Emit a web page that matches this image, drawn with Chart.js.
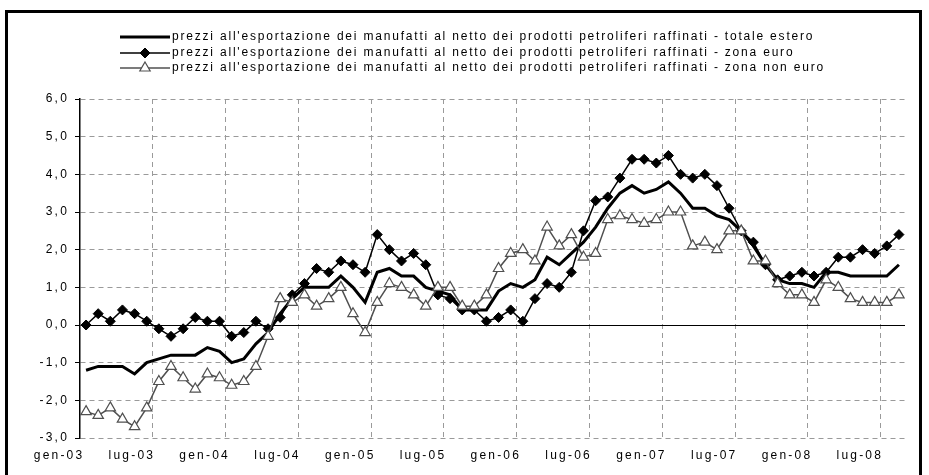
<!DOCTYPE html>
<html>
<head>
<meta charset="utf-8">
<script src="https://cdn.jsdelivr.net/npm/chart.js@4"></script>
<style>
  html, body { margin: 0; padding: 0; background: #fff; }
  #wrap { width: 929px; height: 475px; }
</style>
</head>
<body>
<div id="wrap"><canvas id="c" width="929" height="475"></canvas></div>
<script>
const categories = [
  'gen-03','feb-03','mar-03','apr-03','mag-03','giu-03','lug-03','ago-03','set-03','ott-03','nov-03','dic-03',
  'gen-04','feb-04','mar-04','apr-04','mag-04','giu-04','lug-04','ago-04','set-04','ott-04','nov-04','dic-04',
  'gen-05','feb-05','mar-05','apr-05','mag-05','giu-05','lug-05','ago-05','set-05','ott-05','nov-05','dic-05',
  'gen-06','feb-06','mar-06','apr-06','mag-06','giu-06','lug-06','ago-06','set-06','ott-06','nov-06','dic-06',
  'gen-07','feb-07','mar-07','apr-07','mag-07','giu-07','lug-07','ago-07','set-07','ott-07','nov-07','dic-07',
  'gen-08','feb-08','mar-08','apr-08','mag-08','giu-08','lug-08','ago-08'
];

const totaleEstero = [
  -1.2,-1.1,-1.1,-1.1,-1.3,-1.0,-0.9,-0.8,-0.8,-0.8,-0.6,-0.7,
  -1.0,-0.9,-0.5,-0.2, 0.3, 0.7, 1.0, 1.0, 1.0, 1.3, 1.0, 0.6,
   1.4, 1.5, 1.3, 1.3, 1.0, 0.9, 0.8, 0.4, 0.4, 0.4, 0.9, 1.1,
   1.0, 1.2, 1.8, 1.6, 1.9, 2.2, 2.6, 3.1, 3.5, 3.7, 3.5, 3.6,
   3.8, 3.5, 3.1, 3.1, 2.9, 2.8, 2.5, 2.1, 1.6, 1.2, 1.1, 1.1,
   1.0, 1.4, 1.4, 1.3, 1.3, 1.3, 1.3, 1.6
];

const zonaEuro = [
   0.0, 0.3, 0.1, 0.4, 0.3, 0.1,-0.1,-0.3,-0.1, 0.2, 0.1, 0.1,
  -0.3,-0.2, 0.1,-0.1, 0.2, 0.8, 1.1, 1.5, 1.4, 1.7, 1.6, 1.4,
   2.4, 2.0, 1.7, 1.9, 1.6, 0.8, 0.7, 0.4, 0.4, 0.1, 0.2, 0.4,
   0.1, 0.7, 1.1, 1.0, 1.4, 2.5, 3.3, 3.4, 3.9, 4.4, 4.4, 4.3,
   4.5, 4.0, 3.9, 4.0, 3.7, 3.1, 2.5, 2.2, 1.6, 1.2, 1.3, 1.4,
   1.3, 1.4, 1.8, 1.8, 2.0, 1.9, 2.1, 2.4
];

const zonaNonEuro = [
  -2.3,-2.4,-2.2,-2.5,-2.7,-2.2,-1.5,-1.1,-1.4,-1.7,-1.3,-1.4,
  -1.6,-1.5,-1.1,-0.3, 0.7, 0.6, 0.8, 0.5, 0.7, 1.0, 0.3,-0.2,
   0.6, 1.1, 1.0, 0.8, 0.5, 1.0, 1.0, 0.5, 0.5, 0.8, 1.5, 1.9,
   2.0, 1.7, 2.6, 2.1, 2.4, 1.8, 1.9, 2.8, 2.9, 2.8, 2.7, 2.8,
   3.0, 3.0, 2.1, 2.2, 2.0, 2.5, 2.5, 1.7, 1.7, 1.1, 0.8, 0.8,
   0.6, 1.2, 1.0, 0.7, 0.6, 0.6, 0.6, 0.8
];

const seriesNames = [
  "prezzi all'esportazione dei manufatti al netto dei prodotti petroliferi raffinati - totale estero",
  "prezzi all'esportazione dei manufatti al netto dei prodotti petroliferi raffinati - zona euro",
  "prezzi all'esportazione dei manufatti al netto dei prodotti petroliferi raffinati - zona non euro"
];

const yMin = -3, yMax = 6, yStep = 1;
const labelEvery = 6;

const FONT = '"Liberation Sans", Arial, sans-serif';
const GRID = '#9a9a9a';
const NONEURO = '#505050';

const framePlugin = {
  id: 'frame',
  beforeDraw(chart) {
    const ctx = chart.ctx;
    ctx.save();
    ctx.fillStyle = '#fff';
    ctx.fillRect(0, 0, chart.width, chart.height);
    ctx.strokeStyle = '#000';
    ctx.lineWidth = 3;
    ctx.strokeRect(6.5, 11.5, 914, 490);
    ctx.restore();
    ctx.letterSpacing = '2.2px';
  },
  afterDraw(chart) {
    const ctx = chart.ctx;
    ctx.save();
    ctx.letterSpacing = '1.8px';
    const rowsY = [37, 53, 68];
    const x0 = 120, x1 = 170, tx = 172;
    chart.data.datasets.forEach((ds, i) => {
      const y = rowsY[i];
      ctx.setLineDash([]);
      ctx.strokeStyle = ds.borderColor;
      ctx.lineWidth = ds.borderWidth;
      ctx.beginPath();
      ctx.moveTo(x0, y);
      ctx.lineTo(x1, y);
      ctx.stroke();
      if (ds.pointRadius > 0) {
        ctx.fillStyle = ds.pointBackgroundColor;
        ctx.strokeStyle = ds.pointBorderColor;
        ctx.lineWidth = ds.pointBorderWidth;
        Chart.helpers.drawPoint(ctx, {pointStyle: ds.pointStyle, radius: ds.pointRadius, borderWidth: ds.pointBorderWidth, rotation: 0}, (x0 + x1) / 2, y);
      }
      ctx.fillStyle = '#000';
      ctx.font = '12px ' + FONT;
      ctx.textBaseline = 'middle';
      ctx.textAlign = 'left';
      ctx.fillText(ds.label, tx, y);
    });
    ctx.restore();
    ctx.letterSpacing = '0px';
  }
};

new Chart(document.getElementById('c'), {
  type: 'line',
  data: {
    labels: categories,
    datasets: [
      {
        label: seriesNames[0],
        data: totaleEstero,
        borderColor: '#000',
        borderWidth: 3,
        pointRadius: 0,
        pointStyle: 'circle',
        tension: 0,
        order: 3
      },
      {
        label: seriesNames[1],
        data: zonaEuro,
        borderColor: '#000',
        borderWidth: 1.5,
        pointStyle: 'rectRot',
        pointRadius: 5,
        pointBackgroundColor: '#000',
        pointBorderColor: '#000',
        pointBorderWidth: 1,
        tension: 0,
        order: 2
      },
      {
        label: seriesNames[2],
        data: zonaNonEuro,
        borderColor: NONEURO,
        borderWidth: 1.5,
        pointStyle: 'triangle',
        pointRadius: 6,
        pointBackgroundColor: '#fff',
        pointBorderColor: NONEURO,
        pointBorderWidth: 1.2,
        tension: 0,
        order: 1
      }
    ]
  },
  options: {
    responsive: false,
    animation: false,
    devicePixelRatio: 1,
    layout: { padding: { left: 0, right: 24, top: 99, bottom: 0 } },
    plugins: { legend: { display: false }, tooltip: { enabled: false } },
    scales: {
      x: {
        type: 'category',
        offset: true,
        afterFit(scale) { scale.height = 37; },
        grid: {
          offset: true,
          drawTicks: false,
          lineWidth: 1,
          color: (c) => (c.type === 'tick' && c.index % labelEvery === 0 && c.index > 0) ? GRID : 'rgba(0,0,0,0)'
        },
        border: { display: false, dash: [5, 4] },
        ticks: {
          autoSkip: false,
          maxRotation: 0,
          minRotation: 0,
          padding: 10,
          labelOffset: -27,
          color: '#000',
          font: { family: FONT, size: 12 },
          callback(value, index) { return index % labelEvery === 0 ? categories[index] : ''; }
        }
      },
      y: {
        min: yMin,
        max: yMax,
        afterFit(scale) { scale.width = 80; },
        grid: {
          lineWidth: 1,
          color: (c) => (c.tick && c.tick.value === 0) ? '#000' : GRID,
          drawTicks: true,
          tickLength: 5,
          tickColor: '#000',
          tickBorderDash: []
        },
        border: {
          display: true,
          color: '#000',
          width: 1.5,
          dash: (c) => (c.tick && c.tick.value === 0) ? [] : [5, 4]
        },
        ticks: {
          stepSize: yStep,
          padding: 6,
          color: '#000',
          font: { family: FONT, size: 12 },
          callback(v) { return Number(v).toFixed(1).replace('.', ','); }
        }
      }
    }
  },
  plugins: [framePlugin]
});
</script>
</body>
</html>
